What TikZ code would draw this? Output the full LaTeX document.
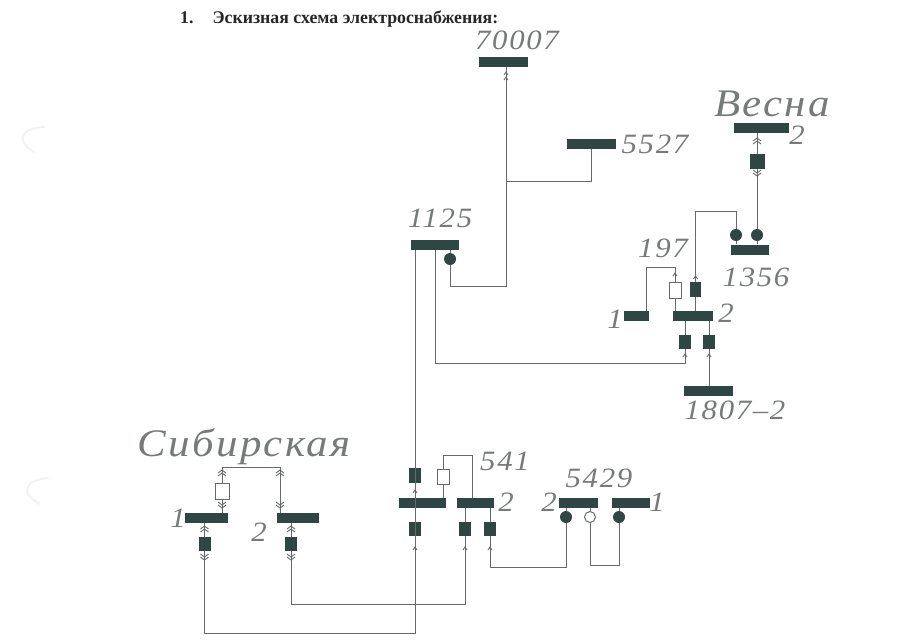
\documentclass[tikz,border=0pt]{standalone}
\usepackage{fontspec}
\setmainfont{Liberation Serif}
\newfontfamily\lblfont[FakeStretch=1.1,LetterSpace=6,Ligatures=NoCommon]{Liberation Serif Italic}
\definecolor{busdark}{HTML}{2E4743}
\definecolor{linegrey}{HTML}{666B6A}
\definecolor{lblgrey}{HTML}{767A78}
\tikzset{
  busbar/.style={fill=busdark,draw=none,inner sep=0pt,minimum height=10pt},
  brk/.style={fill=busdark,draw=none,inner sep=0pt,minimum width=12pt,minimum height=14pt},
  swbox/.style={fill=white,draw=linegrey,line width=1pt,inner sep=0pt,minimum width=12pt,minimum height=15pt},
  reac/.style={circle,fill=busdark,draw=none,inner sep=0pt,minimum size=12pt},
  reacw/.style={circle,fill=white,draw=linegrey,line width=1pt,inner sep=0pt,minimum size=11pt},
  conn/.style={draw=linegrey,line width=1pt},
  chev/.style={draw=linegrey,line width=0.9pt},
  lbl/.style={font=\lblfont\fontsize{28}{28}\selectfont,text=lblgrey,inner sep=0pt},
  lblbig/.style={font=\lblfont\fontsize{39}{39}\selectfont,text=lblgrey,inner sep=0pt},
  scan/.style={draw=black!5,line width=2pt,line cap=round}
}
\begin{document}
\begin{tikzpicture}[x=1pt,y=-1pt]
\useasboundingbox (0,0) rectangle (900,640);
\draw[scan] (44,127) .. controls (22,128) and (14,140) .. (34,152);
\draw[scan] (48,478) .. controls (26,480) and (18,492) .. (40,504);
\node[font=\bfseries\fontsize{17.8}{17.8}\selectfont,text=black!85,anchor=west,inner sep=0pt] (title) at (180,19)
  {1.\hspace{19pt}Эскизная схема электроснабжения:};
% buses
\node[busbar,minimum width=43pt] (busSibA) at (206.5,518) {};
\node[busbar,minimum width=42pt] (busSibB) at (298,518) {};
\node[busbar,minimum width=47pt] (bus541a) at (422.5,503) {};
\node[busbar,minimum width=37pt] (bus541b) at (475.5,503) {};
\node[busbar,minimum width=39pt] (bus5429b) at (578.5,503) {};
\node[busbar,minimum width=38pt] (bus5429a) at (631,503) {};
\node[busbar,minimum width=48pt] (bus1125) at (435,245) {};
\node[busbar,minimum width=49pt] (bus70007) at (503.5,62) {};
\node[busbar,minimum width=49pt] (bus5527) at (591.5,143.5) {};
\node[busbar,minimum width=55pt] (busVesna) at (761.5,127.5) {};
\node[busbar,minimum width=38pt] (bus1356) at (750,249.5) {};
\node[busbar,minimum width=25pt] (bus197a) at (636.5,316) {};
\node[busbar,minimum width=40pt] (bus197b) at (693,316) {};
\node[busbar,minimum width=49pt] (bus1807) at (708.5,391) {};
% breakers and switches
\node[brk] (brkSibA) at (204.5,544) {};
\node[brk] (brkSibB) at (291,544) {};
\node[swbox,minimum width=14pt,minimum height=16pt] (swSib) at (222,491) {};
\node[brk,minimum height=15pt] (brk541) at (415,475.5) {};
\node[swbox] (sw541) at (443,476.5) {};
\node[brk] (brk541c) at (415,529) {};
\node[brk] (brk541d) at (465,529) {};
\node[brk] (brk541e) at (490,529) {};
\node[brk,minimum width=15pt,minimum height=15pt] (brkVesna) at (757,161.5) {};
\node[brk,minimum width=11pt,minimum height=15pt] (brk197) at (695.5,289.5) {};
\node[swbox,minimum height=16pt] (sw197) at (675,290) {};
\node[brk] (brk197c) at (685,342) {};
\node[brk] (brk197d) at (709,342) {};
\node[reac] (reac1125) at (450,259) {};
\node[reac] (reacA) at (566,517) {};
\node[reacw] (reacB) at (590,517) {};
\node[reac] (reacC) at (619,517) {};
\node[reac] (reacD) at (736,235) {};
\node[reac] (reacE) at (757,235) {};
% corners of the lines
\coordinate (sibr) at (280,467);
\coordinate (jnA) at (415,633);
\coordinate (jnB) at (465,604);
\coordinate (jnC) at (435,363);
\coordinate (jnD) at (472,455);
\coordinate (jnE) at (506,286);
\coordinate (jnF) at (506,181);
\coordinate (jnG) at (566,567);
\coordinate (jnH) at (619,565);
\coordinate (jnI) at (695.5,211);
\coordinate (jnJ) at (646,267);
% connectors
\draw[conn] (swSib.south) -- (swSib.south |- busSibA.north);
\draw[conn] (swSib.north) |- (sibr) -- (sibr |- busSibB.north);
\draw[conn] (brkSibA.north) -- (brkSibA.north |- busSibA.south);
\draw[conn] (brkSibB.north) -- (brkSibB.north |- busSibB.south);
\draw[conn] (brkSibA.south) |- (jnA) -- (jnA |- bus1125.south);
\draw[conn] (brkSibB.south) |- (jnB) -- (brk541d.south);
\draw[conn] (brk541d.north) -- (brk541d.north |- bus541b.south);
\draw[conn] (brk541e.north) -- (brk541e.north |- bus541b.south);
\draw[conn] (sw541.south) -- (sw541.south |- bus541a.north);
\draw[conn] (sw541.north) |- (jnD) -- (jnD |- bus541b.north);
\draw[conn] (brk541e.south) |- (jnG) -- (reacA.south);
\draw[conn] (reacB.south) |- (jnH) -- (reacC.south);
\draw[conn] (reacA.north) -- (reacA.north |- bus5429b.south);
\draw[conn] (reacB.north) -- (reacB.north |- bus5429b.south);
\draw[conn] (reacC.north) -- (reacC.north |- bus5429a.south);
\draw[conn] (reac1125.north) -- (reac1125.north |- bus1125.south);
\draw[conn] (reac1125.south) |- (jnE) -- (jnE |- bus70007.south);
\draw[conn] (bus5527.south) |- (jnF);
\draw[conn] (jnC |- bus1125.south) -- (jnC) -- (brk197c.south |- jnC) -- (brk197c.south);
\draw[conn] (brk197c.north) -- (brk197c.north |- bus197b.south);
\draw[conn] (brk197d.north) -- (brk197d.north |- bus197b.south);
\draw[conn] (brk197d.south) -- (brk197d.south |- bus1807.north);
\draw[conn] (sw197.south) -- (sw197.south |- bus197b.north);
\draw[conn] (brk197.south) -- (brk197.south |- bus197b.north);
\draw[conn] (sw197.north) |- (jnJ) -- (jnJ |- bus197a.north);
\draw[conn] (brk197.north) |- (jnI) -| (reacD.north);
\draw[conn] (reacD.south) -- (reacD.south |- bus1356.north);
\draw[conn] (reacE.south) -- (reacE.south |- bus1356.north);
\draw[conn] (brkVesna.north) -- (brkVesna.north |- busVesna.south);
\draw[conn] (brkVesna.south) -- (reacE.north);
% chevrons on the lines
\foreach \x/\y in {222/471,280/471,204.5/527,291/527,757/139}
{
    \draw[chev] (\x-4,\y+2) -- (\x,\y-1) -- (\x+4,\y+2);
    \draw[chev] (\x-4,\y+5) -- (\x,\y+2) -- (\x+4,\y+5);
}
\foreach \x/\y in {222/504,280/504,204.5/556,291/556,757/172}
{
    \draw[chev] (\x-4,\y-2) -- (\x,\y+1) -- (\x+4,\y-2);
    \draw[chev] (\x-4,\y+1) -- (\x,\y+4) -- (\x+4,\y+1);
}
% small tips at the boxes
\foreach \x/\y in {506/72,506/77,415/490,675/273,695.5/276,415/547,465/547,490/547,709/354,685/354}
{
    \draw[chev] (\x-2,\y+3) -- (\x,\y) -- (\x+2,\y+3);
}
% labels
\node[lbl] (lbl70007) at (517,40) {70007};
\node[lbl] (lbl5527) at (655,144) {5527};
\node[lbl] (lbl1125) at (440,218) {1125};
\node[lbl] (lbl197) at (663,248) {197};
\node[lbl] (lbl1356) at (756,277) {1356};
\node[lbl] (lbl197a) at (615,319) {1};
\node[lbl] (lbl197b) at (726,313) {2};
\node[lbl] (lbl1807) at (735,410) {1807–2};
\node[lbl] (lblV) at (797,135) {2};
\node[lbl] (lbl541) at (505,461) {541};
\node[lbl] (lbl541b) at (506,502) {2};
\node[lbl] (lbl5429) at (599,478) {5429};
\node[lbl] (lbl5429b) at (549,502) {2};
\node[lbl] (lbl5429a) at (657,502) {1};
\node[lbl] (lblSibA) at (178,518) {1};
\node[lbl] (lblSibB) at (259,532) {2};
\node[lblbig] (lblVesna) at (772,104) {Весна};
\node[lblbig] (lblSib) at (244,447) {Сибирская};
\end{tikzpicture}
\end{document}
